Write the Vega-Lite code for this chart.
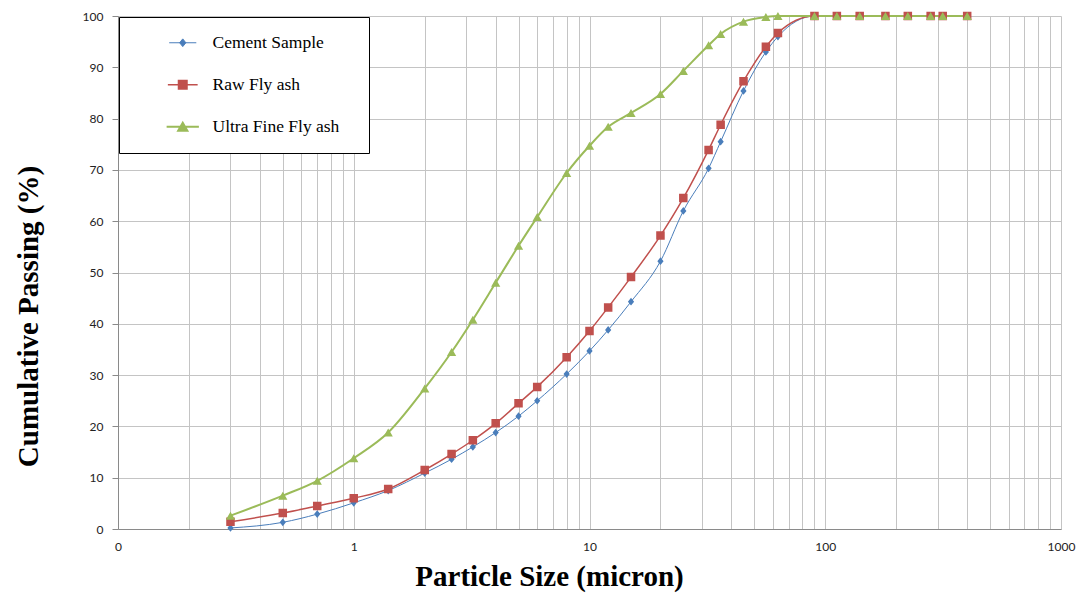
{
  "$schema": "https://vega.github.io/schema/vega-lite/v6.json",
  "width": 943,
  "height": 513,
  "autosize": "none",
  "padding": {"left": 118, "top": 16, "right": 18, "bottom": 69},
  "background": "white",
  "config": {
    "view": {"stroke": null},
    "axis": {"gridColor": "#c4c4c4", "gridWidth": 1, "domainColor": "#8a8a8a", "tickColor": "#8a8a8a", "labelFont": "Lato", "labelFontSize": 12, "labelColor": "#222", "titleFont": "Liberation Serif", "titleFontWeight": "bold", "titleFontSize": 29, "titleColor": "#000"}
  },
  "datasets": {
    "psd": [
      {"size": 0.3, "passing": 0.2, "sample": "Cement Sample"},
      {"size": 0.5, "passing": 1.3, "sample": "Cement Sample"},
      {"size": 0.7, "passing": 2.9, "sample": "Cement Sample"},
      {"size": 1, "passing": 5.1, "sample": "Cement Sample"},
      {"size": 1.4, "passing": 7.5, "sample": "Cement Sample"},
      {"size": 2, "passing": 10.9, "sample": "Cement Sample"},
      {"size": 2.6, "passing": 13.6, "sample": "Cement Sample"},
      {"size": 3.2, "passing": 16, "sample": "Cement Sample"},
      {"size": 4, "passing": 18.8, "sample": "Cement Sample"},
      {"size": 5, "passing": 22, "sample": "Cement Sample"},
      {"size": 6, "passing": 25, "sample": "Cement Sample"},
      {"size": 8, "passing": 30.2, "sample": "Cement Sample"},
      {"size": 10, "passing": 34.7, "sample": "Cement Sample"},
      {"size": 12, "passing": 38.8, "sample": "Cement Sample"},
      {"size": 15, "passing": 44.3, "sample": "Cement Sample"},
      {"size": 20, "passing": 52.2, "sample": "Cement Sample"},
      {"size": 25, "passing": 62, "sample": "Cement Sample"},
      {"size": 32, "passing": 70.3, "sample": "Cement Sample"},
      {"size": 36, "passing": 75.5, "sample": "Cement Sample"},
      {"size": 45, "passing": 85.4, "sample": "Cement Sample"},
      {"size": 56, "passing": 93, "sample": "Cement Sample"},
      {"size": 63, "passing": 96, "sample": "Cement Sample"},
      {"size": 90, "passing": 100, "sample": "Cement Sample"},
      {"size": 112, "passing": 100, "sample": "Cement Sample"},
      {"size": 140, "passing": 100, "sample": "Cement Sample"},
      {"size": 180, "passing": 100, "sample": "Cement Sample"},
      {"size": 224, "passing": 100, "sample": "Cement Sample"},
      {"size": 280, "passing": 100, "sample": "Cement Sample"},
      {"size": 315, "passing": 100, "sample": "Cement Sample"},
      {"size": 400, "passing": 100, "sample": "Cement Sample"},
      {"size": 0.3, "passing": 1.4, "sample": "Raw Fly ash"},
      {"size": 0.5, "passing": 3.1, "sample": "Raw Fly ash"},
      {"size": 0.7, "passing": 4.5, "sample": "Raw Fly ash"},
      {"size": 1, "passing": 6, "sample": "Raw Fly ash"},
      {"size": 1.4, "passing": 7.8, "sample": "Raw Fly ash"},
      {"size": 2, "passing": 11.5, "sample": "Raw Fly ash"},
      {"size": 2.6, "passing": 14.6, "sample": "Raw Fly ash"},
      {"size": 3.2, "passing": 17.3, "sample": "Raw Fly ash"},
      {"size": 4, "passing": 20.6, "sample": "Raw Fly ash"},
      {"size": 5, "passing": 24.5, "sample": "Raw Fly ash"},
      {"size": 6, "passing": 27.7, "sample": "Raw Fly ash"},
      {"size": 8, "passing": 33.5, "sample": "Raw Fly ash"},
      {"size": 10, "passing": 38.6, "sample": "Raw Fly ash"},
      {"size": 12, "passing": 43.2, "sample": "Raw Fly ash"},
      {"size": 15, "passing": 49.1, "sample": "Raw Fly ash"},
      {"size": 20, "passing": 57.2, "sample": "Raw Fly ash"},
      {"size": 25, "passing": 64.5, "sample": "Raw Fly ash"},
      {"size": 32, "passing": 73.9, "sample": "Raw Fly ash"},
      {"size": 36, "passing": 78.8, "sample": "Raw Fly ash"},
      {"size": 45, "passing": 87.3, "sample": "Raw Fly ash"},
      {"size": 56, "passing": 94, "sample": "Raw Fly ash"},
      {"size": 63, "passing": 96.7, "sample": "Raw Fly ash"},
      {"size": 90, "passing": 100, "sample": "Raw Fly ash"},
      {"size": 112, "passing": 100, "sample": "Raw Fly ash"},
      {"size": 140, "passing": 100, "sample": "Raw Fly ash"},
      {"size": 180, "passing": 100, "sample": "Raw Fly ash"},
      {"size": 224, "passing": 100, "sample": "Raw Fly ash"},
      {"size": 280, "passing": 100, "sample": "Raw Fly ash"},
      {"size": 315, "passing": 100, "sample": "Raw Fly ash"},
      {"size": 400, "passing": 100, "sample": "Raw Fly ash"},
      {"size": 0.3, "passing": 2.6, "sample": "Ultra Fine Fly ash"},
      {"size": 0.5, "passing": 6.5, "sample": "Ultra Fine Fly ash"},
      {"size": 0.7, "passing": 9.4, "sample": "Ultra Fine Fly ash"},
      {"size": 1, "passing": 13.8, "sample": "Ultra Fine Fly ash"},
      {"size": 1.4, "passing": 18.8, "sample": "Ultra Fine Fly ash"},
      {"size": 2, "passing": 27.4, "sample": "Ultra Fine Fly ash"},
      {"size": 2.6, "passing": 34.5, "sample": "Ultra Fine Fly ash"},
      {"size": 3.2, "passing": 40.8, "sample": "Ultra Fine Fly ash"},
      {"size": 4, "passing": 48, "sample": "Ultra Fine Fly ash"},
      {"size": 5, "passing": 55.2, "sample": "Ultra Fine Fly ash"},
      {"size": 6, "passing": 60.8, "sample": "Ultra Fine Fly ash"},
      {"size": 8, "passing": 69.4, "sample": "Ultra Fine Fly ash"},
      {"size": 10, "passing": 74.7, "sample": "Ultra Fine Fly ash"},
      {"size": 12, "passing": 78.4, "sample": "Ultra Fine Fly ash"},
      {"size": 15, "passing": 81.1, "sample": "Ultra Fine Fly ash"},
      {"size": 20, "passing": 84.8, "sample": "Ultra Fine Fly ash"},
      {"size": 25, "passing": 89.3, "sample": "Ultra Fine Fly ash"},
      {"size": 32, "passing": 94.3, "sample": "Ultra Fine Fly ash"},
      {"size": 36, "passing": 96.5, "sample": "Ultra Fine Fly ash"},
      {"size": 45, "passing": 98.9, "sample": "Ultra Fine Fly ash"},
      {"size": 56, "passing": 99.8, "sample": "Ultra Fine Fly ash"},
      {"size": 63, "passing": 100, "sample": "Ultra Fine Fly ash"},
      {"size": 90, "passing": 100, "sample": "Ultra Fine Fly ash"},
      {"size": 112, "passing": 100, "sample": "Ultra Fine Fly ash"},
      {"size": 140, "passing": 100, "sample": "Ultra Fine Fly ash"},
      {"size": 180, "passing": 100, "sample": "Ultra Fine Fly ash"},
      {"size": 224, "passing": 100, "sample": "Ultra Fine Fly ash"},
      {"size": 280, "passing": 100, "sample": "Ultra Fine Fly ash"},
      {"size": 315, "passing": 100, "sample": "Ultra Fine Fly ash"},
      {"size": 400, "passing": 100, "sample": "Ultra Fine Fly ash"}
    ]
  },
  "data": {"name": "psd"},
  "encoding": {
    "x": {
      "field": "size", "type": "quantitative",
      "scale": {"type": "log", "domain": [0.1, 1000], "nice": false},
      "axis": {
        "title": "Particle Size (micron)",
        "titleX": 431, "titleY": 47, "titleBaseline": "middle",
        "values": [0.1,0.2,0.3,0.4,0.5,0.6,0.7,0.8,0.9,1,2,3,4,5,6,7,8,9,10,20,30,40,50,60,70,80,90,100,200,300,400,500,600,700,800,900,1000],
        "labelExpr": "datum.value < 0.15 ? '0' : (abs(log(datum.value)/LN10 - round(log(datum.value)/LN10)) < 0.001 ? format(datum.value, 'd') : '')",
        "ticks": false,
        "labelPadding": 12,
        "labelFlush": false,
        "labelOverlap": false
      }
    },
    "y": {
      "field": "passing", "type": "quantitative",
      "scale": {"domain": [0, 100], "nice": false},
      "axis": {
        "title": "Cumulative Passing (%)",
        "titleX": -90, "titleY": 300, "titleBaseline": "middle",
        "values": [0,10,20,30,40,50,60,70,80,90,100],
        "tickSize": 6,
        "labelPadding": 9
      }
    },
    "color": {
      "field": "sample", "type": "nominal",
      "scale": {"domain": ["Cement Sample", "Raw Fly ash", "Ultra Fine Fly ash"], "range": ["#4a7ebb", "#c0504d", "#9bbb59"]},
      "legend": {
        "title": " ",
        "titleOrient": "right",
        "titlePadding": 13,
        "orient": "none",
        "legendX": 1,
        "legendY": 1,
        "fillColor": "white",
        "strokeColor": "#000",
        "padding": 17,
        "rowPadding": 23,
        "symbolOffset": 38,
        "labelOffset": 21,
        "labelFont": "Liberation Serif",
        "labelFontSize": 17.5,
        "labelColor": "#000",
        "labelLimit": 300,
        "symbolSize": 75,
        "encode": {
          "symbols": {
            "update": {
              "stroke": {"scale": "color", "field": "value"},
              "strokeWidth": {"scale": "strokeWidth", "field": "value"}
            }
          }
        }
      }
    },
    "shape": {
      "field": "sample", "type": "nominal",
      "scale": {"domain": ["Cement Sample", "Raw Fly ash", "Ultra Fine Fly ash"], "range": ["M-3.5,0L3.5,0M-0.8,0L0,-1L0.8,0L0,1Z", "M-3.5,0L3.5,0M-1,-1H1V1H-1Z", "M-3.5,0L3.5,0M0,-0.866L1,0.866L-1,0.866Z"]},
      "legend": null
    }
  },
  "layer": [
    {
      "mark": {"type": "line", "interpolate": "monotone"},
      "encoding": {
        "strokeWidth": {
          "field": "sample", "type": "nominal",
          "scale": {"domain": ["Cement Sample", "Raw Fly ash", "Ultra Fine Fly ash"], "range": [1, 2, 3]},
          "legend": null
        }
      }
    },
    {
      "mark": {"type": "point", "filled": true, "opacity": 1, "strokeWidth": 0},
      "encoding": {
        "size": {
          "field": "sample", "type": "nominal",
          "scale": {"domain": ["Cement Sample", "Raw Fly ash", "Ultra Fine Fly ash"], "range": [60, 85, 100]},
          "legend": null
        }
      }
    }
  ]
}
